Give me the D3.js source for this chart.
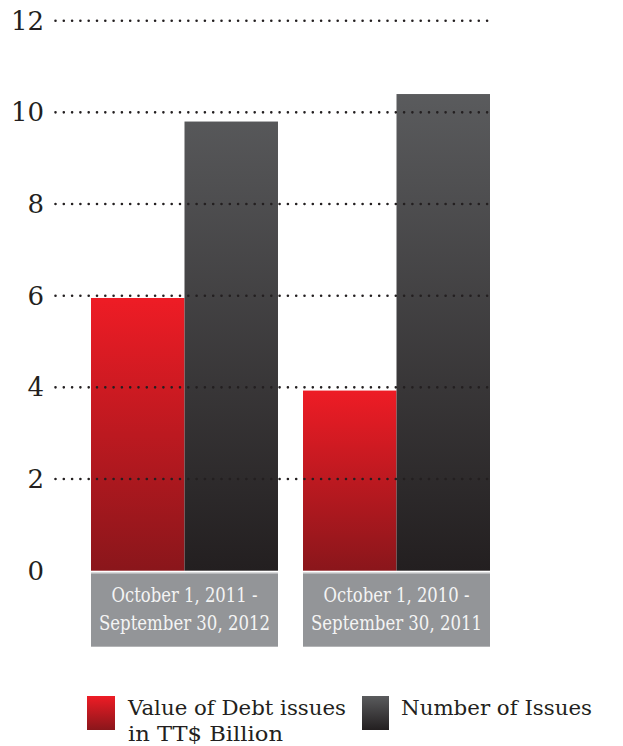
<!DOCTYPE html>
<html>
<head>
<meta charset="utf-8">
<script src="https://cdn.jsdelivr.net/npm/d3@7"></script>
<style>
  body { margin: 0; background: #fff; }
  text { font-family: "DejaVu Serif", serif; }
</style>
</head>
<body>
<div id="chart"></div>
<script>
// Données
const categories = [
  ["October 1, 2011 -", "September 30, 2012"],
  ["October 1, 2010 -", "September 30, 2011"]
];
const valueDebt = [5.95, 3.93];
const numberIssues = [9.8, 10.4];
const series = ["Value of Debt issues in TT$ Billion", "Number of Issues"];
const yTicks = [0, 2, 4, 6, 8, 10, 12];

const width = 623;
const height = 746;

const y = d3.scaleLinear([0, 12], [570.7, 20.7]);
const x = d3.scaleBand(d3.range(categories.length), [91, 490]).paddingInner(0.118);
const xs = d3.scaleBand([0, 1], [0, x.bandwidth()]);

const svg = d3.create("svg")
    .attr("viewBox", [0, 0, width, height])
    .attr("width", width)
    .attr("height", height);

// Dégradés
const defs = svg.append("defs");
const grads = [["gRed", "#ee1c25", "#8a161b"], ["gGray", "#5a5b5d", "#231f20"]];
grads.forEach(([id, c0, c1]) => {
  const g = defs.append("linearGradient").attr("id", id)
      .attr("x1", 0).attr("y1", 0).attr("x2", 0).attr("y2", 1);
  g.append("stop").attr("offset", "0%").attr("stop-color", c0);
  g.append("stop").attr("offset", "100%").attr("stop-color", c1);
});
// dégradé vertical sur toute la hauteur du graphique
grads.forEach(([id, c0, c1]) => {
  const g = defs.append("linearGradient").attr("id", id + "U")
      .attr("gradientUnits", "userSpaceOnUse")
      .attr("x1", 0).attr("y1", y(10.4)).attr("x2", 0).attr("y2", y(0));
  g.append("stop").attr("offset", "0%").attr("stop-color", c0);
  g.append("stop").attr("offset", "100%").attr("stop-color", c1);
});

// Barres
const groups = svg.append("g")
  .selectAll("g")
  .data(categories.map((c, i) => ({c, i, vals: [valueDebt[i], numberIssues[i]]})))
  .join("g")
    .attr("transform", d => `translate(${x(d.i)},0)`);

groups.selectAll("rect")
  .data(d => d.vals.map((v, k) => ({v, k})))
  .join("rect")
    .attr("x", d => xs(d.k))
    .attr("width", xs.bandwidth())
    .attr("y", d => y(d.v))
    .attr("height", d => y(0) - y(d.v))
    .attr("fill", d => d.k === 0 ? "url(#gRed)" : "url(#gGrayU)");

// Boîtes des catégories
groups.append("rect")
    .attr("x", 0)
    .attr("y", 573.3)
    .attr("width", x.bandwidth())
    .attr("height", 73.4)
    .attr("fill", "#939598");
groups.append("line")
    .attr("x1", 0).attr("x2", x.bandwidth())
    .attr("y1", 572.8).attr("y2", 572.8)
    .attr("stroke", "#c8c9cb").attr("stroke-width", 1);

groups.selectAll("text.cat")
  .data(d => d.c)
  .join("text")
    .attr("class", "cat")
    .attr("x", x.bandwidth() / 2)
    .attr("y", (d, j) => 602 + j * 28)
    .attr("text-anchor", "middle")
    .attr("font-size", 20)
    .attr("textLength", (d, j) => j === 0 ? 146 : 171)
    .attr("lengthAdjust", "spacingAndGlyphs")
    .attr("fill", "#f4f4f4")
    .text(d => d);

// Lignes de grille pointillées
svg.append("g")
  .selectAll("line")
  .data(yTicks.filter(t => t > 0))
  .join("line")
    .attr("x1", 55.5)
    .attr("x2", 490)
    .attr("y1", d => y(d))
    .attr("y2", d => y(d))
    .attr("stroke", "#231f20")
    .attr("stroke-width", 2.6)
    .attr("stroke-linecap", "round")
    .attr("stroke-dasharray", "0 8.3");

// Étiquettes de l'axe
svg.append("g")
  .selectAll("text")
  .data(yTicks)
  .join("text")
    .attr("x", 44)
    .attr("y", d => y(d) + 9)
    .attr("text-anchor", "end")
    .attr("font-size", 26)
    .attr("fill", "#231f20")
    .text(d => d);

// Légende
const legend = svg.append("g");
legend.append("rect").attr("x", 87).attr("y", 696).attr("width", 28).attr("height", 34).attr("fill", "url(#gRed)");
legend.append("rect").attr("x", 362).attr("y", 696).attr("width", 27).attr("height", 34).attr("fill", "url(#gGray)");
legend.append("text").attr("x", 128).attr("y", 715).attr("font-size", 21)
    .attr("textLength", 218).attr("lengthAdjust", "spacingAndGlyphs")
    .attr("fill", "#231f20").text("Value of Debt issues");
legend.append("text").attr("x", 128).attr("y", 741).attr("font-size", 21)
    .attr("textLength", 155).attr("lengthAdjust", "spacingAndGlyphs")
    .attr("fill", "#231f20").text("in TT$ Billion");
legend.append("text").attr("x", 401).attr("y", 715).attr("font-size", 21)
    .attr("textLength", 191).attr("lengthAdjust", "spacingAndGlyphs")
    .attr("fill", "#231f20").text("Number of Issues");

document.getElementById("chart").appendChild(svg.node());
</script>
</body>
</html>
